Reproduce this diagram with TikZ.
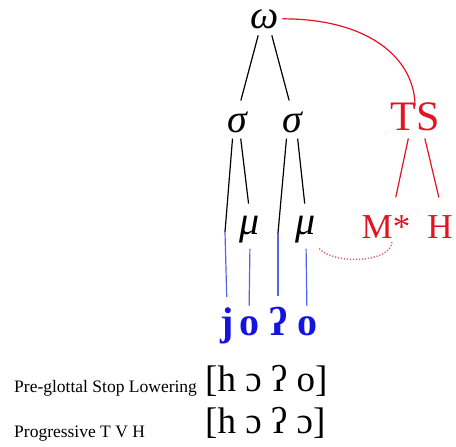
\documentclass[tikz,border=0pt]{standalone}
\usepackage{fontspec}
\setmainfont{Liberation Serif}
\definecolor{tonered}{RGB}{225,20,35}
\definecolor{segblue}{RGB}{20,20,225}
\definecolor{lineblue}{RGB}{85,100,230}
\definecolor{linkpink}{RGB}{225,95,120}
\tikzset{
  greek/.style={inner sep=0pt,anchor=base,font=\fontsize{40}{40}\selectfont\itshape},
  tone/.style={inner sep=0pt,anchor=base,text=tonered,font=\fontsize{35}{35}\selectfont},
  seg/.style={inner sep=0pt,anchor=base,text=segblue,font=\fontsize{40}{40}\selectfont\bfseries},
  label/.style={inner sep=0pt,anchor=base west,font=\fontsize{17.5}{17.5}\selectfont},
  ipa/.style={inner sep=0pt,anchor=base west,font=\fontsize{37}{37}\selectfont},
  assoc/.style={line width=1.2pt,shorten <=7pt,shorten >=11pt},
  spell/.style={line width=1.2pt,draw=lineblue,shorten <=7pt,shorten >=10pt},
  toneline/.style={line width=1.2pt,draw=tonered,shorten <=8pt,shorten >=18pt}
}
\begin{document}
\begin{tikzpicture}[x=1pt,y=-1pt]
\useasboundingbox (0,0) rectangle (456,447);
% prosodic tree
\node[greek] (word) at (265,28) {ω};
\node[greek] (syl1) at (237,132) {σ};
\node[greek] (syl2) at (292,132) {σ};
\node[greek] (mora1) at (250,234) {μ};
\node[greek] (mora2) at (306,234) {μ};
\coordinate (onset1) at (225,232);
\coordinate (onset2) at (278,233);
% segments
\node[seg] (segj) at (227,335) {j};
\node[seg] (sego1) at (249,335) {o};
\node[seg] (segq) at (278,335) {ʔ};
\node[seg] (sego2) at (307,335) {o};
% tones
\node[tone,font=\fontsize{42}{42}\selectfont] (ts) at (415,130) {TS};
\node[tone] (mstar) at (386,238) {M*};
\node[tone] (high) at (440,238) {H};
\draw[assoc] ([xshift=-5pt]word.south) -- ([xshift=1pt]syl1.north);
\draw[assoc] ([xshift=5pt]word.south) -- (syl2.north);
\draw[assoc,shorten <=6pt,shorten >=0pt] ([xshift=-4pt]syl1.south) -- (onset1);
\draw[assoc,shorten <=6pt,shorten >=12pt] ([xshift=3pt]syl1.south) -- (mora1.north);
\draw[assoc,shorten <=6pt,shorten >=0pt] ([xshift=-5pt]syl2.south) -- (onset2);
\draw[assoc,shorten <=6pt,shorten >=12pt] ([xshift=5pt]syl2.south) -- (mora2.north);
\draw[spell,shorten <=0pt] (onset1) -- (segj.north);
\draw[spell,shorten <=6pt] (mora1.south) -- (sego1.north);
\draw[spell,shorten <=0pt] (onset2) -- (segq.north);
\draw[spell,shorten <=6pt] (mora2.south) -- (sego2.north);
\draw[line width=1.2pt,tonered] ([xshift=3pt]word.east) .. controls +(90,0) and +(0,-45) .. ([yshift=-4pt]ts.north);
\draw[toneline] ([xshift=-5pt]ts.south) -- ([xshift=6pt]mstar.north);
\draw[toneline] ([xshift=8pt]ts.south) -- ([xshift=3pt]high.north);
\draw[line width=1.5pt,linkpink,dash pattern=on 1.2pt off 1.8pt] ([shift={(3pt,-6pt)}]mora2.south east) .. controls +(15,16) and +(0,22) .. ([shift={(6pt,-3pt)}]mstar.south);
% realisations
\node[label] (lower) at (14,392) {Pre-glottal Stop Lowering};
\node[ipa] (lowerform) at (205,391) {[h ɔ ʔ o]};
\node[label] (spread) at (14,437) {Progressive T V H};
\node[ipa] (spreadform) at (205,433) {[h ɔ ʔ ɔ]};
\end{tikzpicture}
\end{document}
